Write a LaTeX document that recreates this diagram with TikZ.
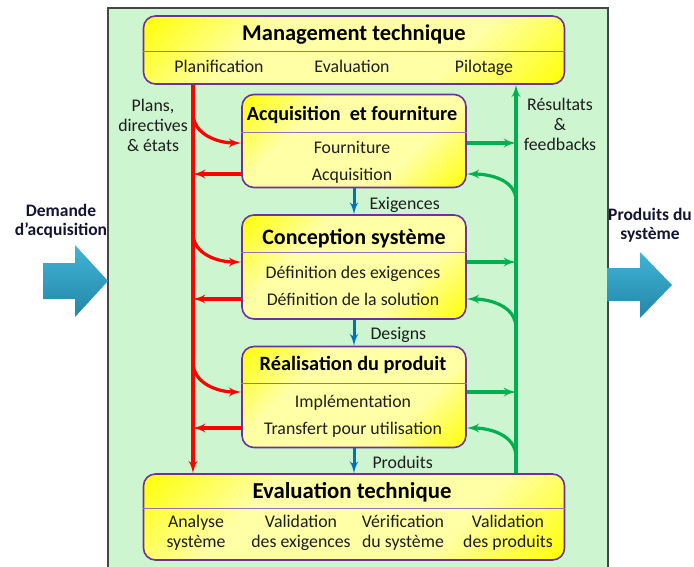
\documentclass[tikz,border=0pt]{standalone}
\usepackage{fontspec}
\setmainfont{Carlito}
\usetikzlibrary{shapes,arrows}
\definecolor{bggreen}{RGB}{204,245,208}
\definecolor{bgframe}{RGB}{70,70,70}
\definecolor{boxpurple}{RGB}{112,48,160}
\definecolor{arrred}{RGB}{255,0,0}
\definecolor{arrgreen}{RGB}{0,176,80}
\definecolor{arrblue}{RGB}{0,112,192}
\definecolor{txtdark}{RGB}{30,30,30}
\definecolor{sidetxt}{RGB}{20,20,50}
\definecolor{bigblueA}{RGB}{64,180,214}
\definecolor{bigblueB}{RGB}{36,134,168}
\definecolor{paleyel}{RGB}{255,255,165}
\pgfdeclareverticalshading{boxshade}{100bp}{color(0bp)=(yellow); color(14bp)=(yellow); color(34bp)=(paleyel); color(66bp)=(paleyel); color(86bp)=(yellow); color(100bp)=(yellow)}

\begin{document}
\begin{tikzpicture}[x=1pt,y=-1pt,
  line/.style={draw, line width=3.2pt, -latex', shorten >= 0pt},
  blk/.style={rectangle, rounded corners=12pt, draw=boxpurple, line width=1.6pt, shading=boxshade, shading angle=45, anchor=center},
  sep/.style={draw=boxpurple!70, line width=0.8pt},
  ttl/.style={font=\bfseries\fontsize{20}{24}\selectfont, text=black, text height=14.5pt, text depth=0.5pt},
  itm/.style={font=\fontsize{17.8}{20}\selectfont, text=txtdark, align=center},
  one/.style={text height=12.5pt, text depth=0.5pt},
  side/.style={font=\bfseries\fontsize{17.5}{19}\selectfont, text=sidetxt, align=center},
  bigarrow/.style={top color=bigblueA, bottom color=bigblueB, draw=none}]
\useasboundingbox (0,0) rectangle (694,566);

% background and side arrows
\draw[draw=bgframe, fill=bggreen, line width=1.2pt] (108,8) rectangle (608,575);
\path[bigarrow] (43,263) -- (75,263) -- (75,245) -- (108,281) -- (75,317) -- (75,299) -- (43,299) -- cycle;
\path[bigarrow] (607,268) -- (640,268) -- (640,252) -- (672,285) -- (640,318) -- (640,301) -- (607,301) -- cycle;
\node [side] (demande) at (61,221) {Demande\\d'acquisition};
\node [side] (produits) at (650,225) {Produits du\\système};

% blocks
\node [blk, minimum width=421pt, minimum height=68pt] (mgmt) at (354,50) {};
\node [blk, minimum width=224pt, minimum height=93pt] (acq) at (354,141) {};
\node [blk, minimum width=224pt, minimum height=104pt] (conc) at (354,267) {};
\node [blk, minimum width=224pt, minimum height=101pt] (real) at (354,397) {};
\node [blk, minimum width=421pt, minimum height=86pt] (eval) at (354,517) {};

\draw[sep] (mgmt.west |- 0,51) -- (mgmt.east |- 0,51);
\draw[sep] (acq.west |- 0,132) -- (acq.east |- 0,132);
\draw[sep] (conc.west |- 0,252) -- (conc.east |- 0,252);
\draw[sep] (real.west |- 0,383) -- (real.east |- 0,383);
\draw[sep] (eval.west |- 0,508) -- (eval.east |- 0,508);

\node [ttl, font=\bfseries\fontsize{22.5}{26}\selectfont] (mgmtT) at (354,33) {Management technique};
\node [itm, one] (plan) at (219,66) {Planification};
\node [itm, one] (evalu) at (352,66) {Evaluation};
\node [itm, one] (pilot) at (484,66) {Pilotage};

\node [ttl, font=\bfseries\fontsize{20.2}{24}\selectfont] (acqT) at (352,113) {Acquisition~ et fourniture};
\node [itm, one] (fourn) at (352,147) {Fourniture};
\node [itm, one] (acqi) at (352,174) {Acquisition};

\node [ttl, font=\bfseries\fontsize{22}{26}\selectfont] (concT) at (354,237) {Conception système};
\node [itm, one] (defex) at (353,272) {Définition des exigences};
\node [itm, one] (defsol) at (353,299) {Définition de la solution};

\node [ttl, font=\bfseries\fontsize{20.3}{24}\selectfont] (realT) at (353,363) {Réalisation du produit};
\node [itm, one] (impl) at (353,401) {Implémentation};
\node [itm, one] (transf) at (353,428) {Transfert pour utilisation};

\node [ttl, font=\bfseries\fontsize{22.8}{26}\selectfont] (evalT) at (352,491) {Evaluation technique};
\node [itm] (anasys) at (196,533) {Analyse\\système};
\node [itm] (valex) at (301,533) {Validation\\des exigences};
\node [itm] (versys) at (403,533) {Vérification\\du système};
\node [itm] (valprod) at (508,533) {Validation\\des produits};

% flow labels
\node [itm] (plans) at (153,125) {Plans,\\directives\\\& états};
\node [itm] (results) at (560,124) {Résultats\\\&\\feedbacks};
\node [itm, one, anchor=west] (exig) at (366,203) {Exigences};
\node [itm, one, anchor=west] (designs) at (367,333) {Designs};
\node [itm, one, anchor=west] (prods) at (369,462) {Produits};

% helper coordinates
\coordinate (redx) at (193,0);
\coordinate (greenx) at (516,0);
\coordinate (acqR) at (193,113);
\coordinate (concR) at (193,233);
\coordinate (realR) at (193,362);
\coordinate (acqG) at (516,201);
\coordinate (concG) at (516,328);
\coordinate (realG) at (516,457);
\coordinate (acqIn) at (0,143);
\coordinate (concIn) at (0,262);
\coordinate (realIn) at (0,392);

\begin{scope}[every path/.style=line]
  \path[arrred] (mgmt.south -| redx) -- (eval.north -| redx);
  \path[arrred] (acqR) to[out=-90, in=180] (acq.west |- acqIn);
  \path[arrred] (concR) to[out=-90, in=180] (conc.west |- concIn);
  \path[arrred] (realR) to[out=-90, in=180] (real.west |- realIn);
  \path[arrred] (acq.west |- acqi) -- (redx |- acqi);
  \path[arrred] (conc.west |- defsol) -- (redx |- defsol);
  \path[arrred] (real.west |- transf) -- (redx |- transf);
  \path[arrgreen] (eval.north -| greenx) -- (mgmt.south -| greenx);
  \path[arrgreen] (acq.east |- acqIn) -- (greenx |- acqIn);
  \path[arrgreen] (conc.east |- concIn) -- (greenx |- concIn);
  \path[arrgreen] (real.east |- realIn) -- (greenx |- realIn);
  \path[arrgreen] (acqG) to[out=90, in=0] (acq.east |- acqi);
  \path[arrgreen] (concG) to[out=90, in=0] (conc.east |- defsol);
  \path[arrgreen] (realG) to[out=90, in=0] (real.east |- transf);
  \path[arrblue, line width=3pt] (acq.south) -- (conc.north);
  \path[arrblue, line width=3pt] (conc.south) -- (real.north);
  \path[arrblue, line width=3pt] (real.south) -- (real.south |- eval.north);
\end{scope}
\end{tikzpicture}
\end{document}
